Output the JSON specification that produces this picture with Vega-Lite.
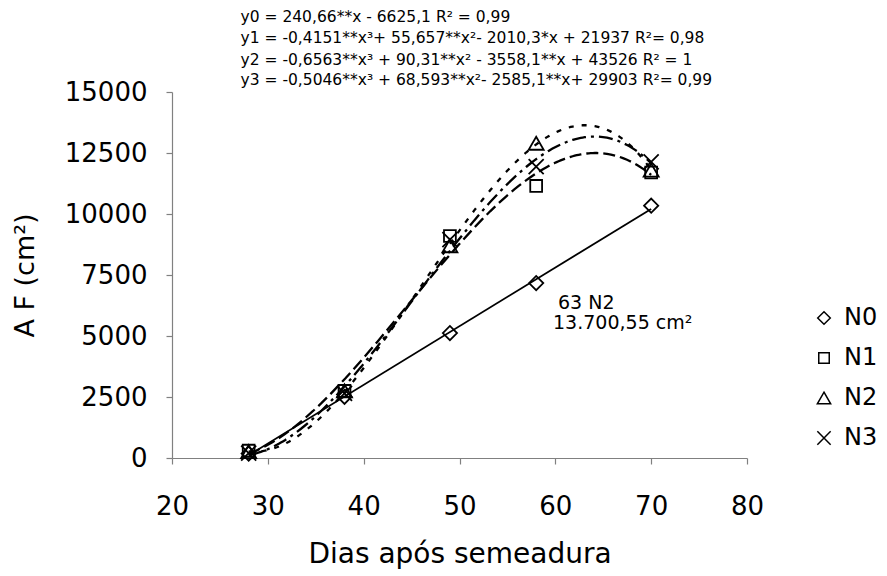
{
  "$schema": "https://vega.github.io/schema/vega-lite/v6.json",
  "width": 575,
  "height": 366,
  "autosize": {"type": "none"},
  "padding": {"left": 172, "top": 92, "right": 140, "bottom": 118},
  "background": "white",
  "config": {
    "view": {"stroke": null},
    "font": "DejaVu Sans",
    "axis": {
      "domainColor": "#808080",
      "tickColor": "#808080",
      "domainWidth": 1.2,
      "tickWidth": 1.2,
      "tickSize": 6,
      "grid": false,
      "labelColor": "black",
      "titleColor": "black",
      "titleFontWeight": "normal",
      "labelFont": "DejaVu Sans",
      "titleFont": "DejaVu Sans",
      "labelFlush": false,
      "labelOverlap": false
    },
    "axisX": {"labelFontSize": 26, "labelPadding": 29, "titleFontSize": 28, "titlePadding": 21},
    "axisY": {"labelFontSize": 26, "labelPadding": 19, "titleFontSize": 27, "titlePadding": 25},
    "legend": {
      "orient": "none",
      "legendX": 640,
      "legendY": 214,
      "title": null,
      "labelFontSize": 24,
      "labelFont": "DejaVu Sans",
      "labelColor": "black",
      "symbolSize": 110,
      "symbolStrokeWidth": 1.5,
      "symbolStrokeColor": "black",
      "rowPadding": 16,
      "labelOffset": 8
    }
  },
  "datasets": {
    "pts": [
      {"dias": 28, "af": 180, "serie": "N0"},
      {"dias": 38, "af": 2510, "serie": "N0"},
      {"dias": 49, "af": 5120, "serie": "N0"},
      {"dias": 58, "af": 7170, "serie": "N0"},
      {"dias": 70, "af": 10340, "serie": "N0"},
      {"dias": 28, "af": 300, "serie": "N1"},
      {"dias": 38, "af": 2750, "serie": "N1"},
      {"dias": 49, "af": 9100, "serie": "N1"},
      {"dias": 58, "af": 11150, "serie": "N1"},
      {"dias": 70, "af": 11700, "serie": "N1"},
      {"dias": 28, "af": 260, "serie": "N2"},
      {"dias": 38, "af": 2750, "serie": "N2"},
      {"dias": 49, "af": 8700, "serie": "N2"},
      {"dias": 58, "af": 12900, "serie": "N2"},
      {"dias": 70, "af": 11800, "serie": "N2"},
      {"dias": 28, "af": 200, "serie": "N3"},
      {"dias": 38, "af": 2650, "serie": "N3"},
      {"dias": 49, "af": 8950, "serie": "N3"},
      {"dias": 58, "af": 11940, "serie": "N3"},
      {"dias": 70, "af": 12140, "serie": "N3"}
    ],
    "eq": [
      {"dias": 27.15, "af": 18074, "t": "y0 = 240,66**x - 6625,1 R² = 0,99"},
      {"dias": 27.15, "af": 17213, "t": "y1 = -0,4151**x³+ 55,657**x²- 2010,3*x + 21937  R²= 0,98"},
      {"dias": 27.15, "af": 16311, "t": "y2 = -0,6563**x³ + 90,31**x² - 3558,1**x + 43526 R² = 1"},
      {"dias": 27.15, "af": 15492, "t": "y3 = -0,5046**x³ + 68,593**x²- 2585,1**x+ 29903 R²= 0,99"}
    ],
    "note": [
      {"dias": 60.28, "af": 6352, "t": "63 N2"},
      {"dias": 59.76, "af": 5520, "t": "13.700,55 cm²"}
    ]
  },
  "encoding": {
    "x": {
      "field": "dias",
      "type": "quantitative",
      "scale": {"domain": [20, 80], "nice": false},
      "axis": {"values": [20, 30, 40, 50, 60, 70, 80], "title": "Dias após semeadura"}
    },
    "y": {
      "field": "af",
      "type": "quantitative",
      "scale": {"domain": [0, 15000], "nice": false},
      "axis": {"values": [0, 2500, 5000, 7500, 10000, 12500, 15000], "format": "d", "title": "A F (cm²)"}
    }
  },
  "layer": [
    {
      "data": {"name": "pts"},
      "transform": [
        {"filter": "datum.serie === 'N0'"},
        {"regression": "af", "on": "dias", "method": "linear", "extent": [28, 70]}
      ],
      "mark": {"type": "line", "color": "black", "strokeWidth": 1.8}
    },
    {
      "data": {"name": "pts"},
      "transform": [
        {"filter": "datum.serie !== 'N0'"},
        {"regression": "af", "on": "dias", "method": "poly", "order": 3, "groupby": ["serie"], "extent": [28, 70]}
      ],
      "mark": {"type": "line", "color": "black", "strokeWidth": 2.3},
      "encoding": {
        "strokeDash": {
          "field": "serie",
          "type": "nominal",
          "scale": {"domain": ["N1", "N2", "N3"], "range": [[12, 5], [5, 8], [14, 5, 3, 5]]},
          "legend": null
        }
      }
    },
    {
      "data": {"name": "pts"},
      "mark": {"type": "point", "filled": false, "color": "black", "strokeWidth": 1.8, "size": 140, "opacity": 1},
      "encoding": {
        "shape": {
          "field": "serie",
          "type": "nominal",
          "scale": {
            "domain": ["N0", "N1", "N2", "N3"],
            "range": [
              "M-1.2,0L0,-1.2L1.2,0L0,1.2Z",
              "square",
              "M0,-1.1L1.27,1.1L-1.27,1.1Z",
              "M-1.27,-1.27L1.27,1.27M-1.27,1.27L1.27,-1.27"
            ]
          }
        }
      }
    },
    {
      "data": {"name": "eq"},
      "mark": {"type": "text", "align": "left", "baseline": "middle", "fontSize": 15.5, "font": "DejaVu Sans", "color": "black"},
      "encoding": {"text": {"field": "t"}}
    },
    {
      "data": {"name": "note"},
      "mark": {"type": "text", "align": "left", "baseline": "middle", "fontSize": 19, "font": "DejaVu Sans", "color": "black"},
      "encoding": {"text": {"field": "t"}}
    }
  ]
}
